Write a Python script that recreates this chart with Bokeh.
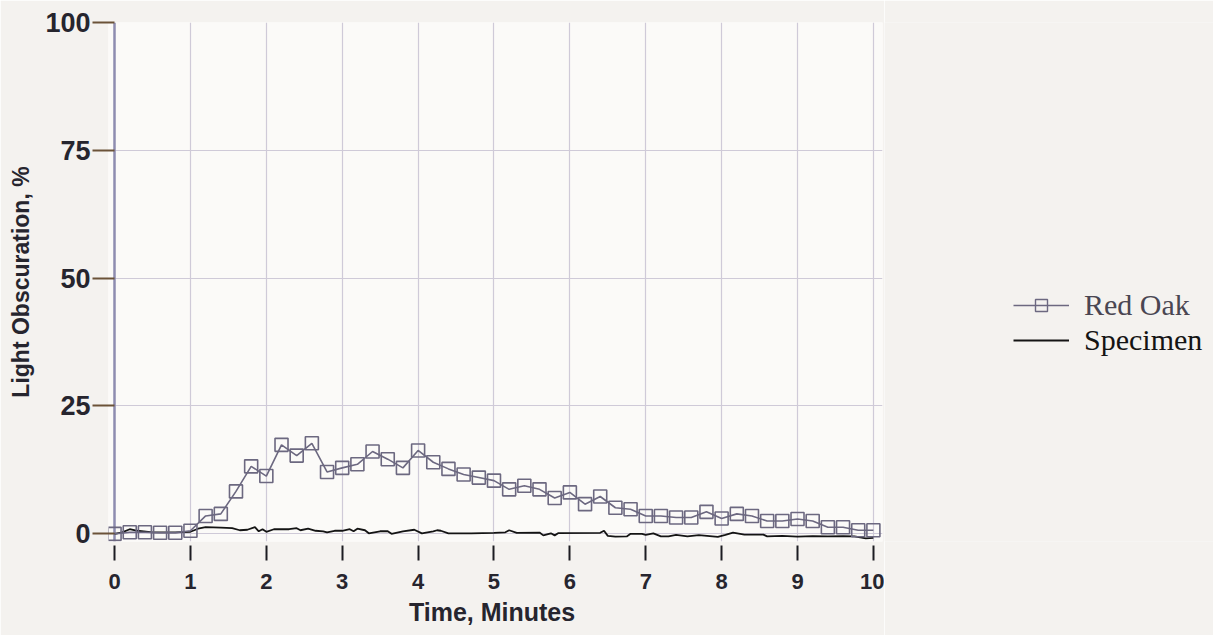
from bokeh.plotting import figure
from bokeh.layouts import row
from bokeh.models import Range1d, FixedTicker, Grid, Legend, LegendItem
from bokeh.embed import file_html
from bokeh.resources import INLINE

# ---- data ----
oak_t = [0.0, 0.2, 0.4, 0.6, 0.8, 1.0, 1.2, 1.4, 1.6, 1.8,
         2.0, 2.2, 2.4, 2.6, 2.8, 3.0, 3.2, 3.4, 3.6, 3.8,
         4.0, 4.2, 4.4, 4.6, 4.8, 5.0, 5.2, 5.4, 5.6, 5.8,
         6.0, 6.2, 6.4, 6.6, 6.8, 7.0, 7.2, 7.4, 7.6, 7.8,
         8.0, 8.2, 8.4, 8.6, 8.8, 9.0, 9.2, 9.4, 9.6, 9.8, 10.0]
oak_v = [0.0, 0.3, 0.3, 0.2, 0.2, 0.6, 3.5, 3.9, 8.3, 13.2,
         11.3, 17.4, 15.3, 17.7, 12.1, 12.9, 13.6, 16.1, 14.6, 12.9,
         16.3, 14.0, 12.7, 11.6, 11.0, 10.4, 8.7, 9.4, 8.7, 7.0,
         8.1, 5.8, 7.3, 5.1, 4.8, 3.5, 3.5, 3.2, 3.2, 4.3,
         3.0, 3.9, 3.5, 2.5, 2.5, 2.9, 2.5, 1.3, 1.3, 0.7, 0.7]

spec_t = [0.0, 0.1, 0.2, 0.3, 0.5, 0.8, 1.0, 1.1, 1.2, 1.4,
          1.55, 1.65, 1.75, 1.85, 1.9, 1.95, 2.0, 2.1, 2.3, 2.4,
          2.45, 2.55, 2.65, 2.75, 2.8, 2.9, 3.0, 3.1, 3.15, 3.2,
          3.3, 3.35, 3.5, 3.6, 3.65, 3.8, 3.95, 4.05, 4.2, 4.25,
          4.3, 4.4, 4.7, 5.0, 5.15, 5.2, 5.3, 5.6, 5.65, 5.75,
          5.8, 5.85, 6.4, 6.45, 6.5, 6.6, 6.75, 6.8, 6.95, 7.0,
          7.1, 7.2, 7.3, 7.4, 7.55, 7.7, 7.95, 8.05, 8.15, 8.3,
          8.55, 8.6, 8.8, 9.0, 9.2, 9.4, 9.6, 9.75, 9.9, 10.0]
spec_v = [0.0, 0.3, 0.9, 0.6, 0.3, 0.3, 0.4, 1.0, 1.3, 1.2,
          1.1, 0.7, 0.8, 1.3, 0.5, 0.9, 0.4, 0.9, 0.9, 1.1,
          0.7, 1.0, 0.6, 0.5, 0.3, 0.6, 0.6, 0.9, 0.5, 1.0,
          0.7, 0.1, 0.5, 0.5, 0.0, 0.5, 0.8, 0.1, 0.5, 0.7,
          0.6, 0.1, 0.1, 0.2, 0.3, 0.7, 0.2, 0.25, -0.3, 0.1,
          -0.3, 0.15, 0.2, 0.6, -0.4, -0.55, -0.5, 0.0, 0.0, -0.2,
          0.1, -0.5, -0.5, -0.2, -0.5, -0.25, -0.6, -0.2, 0.25, -0.15,
          -0.15, -0.5, -0.4, -0.55, -0.45, -0.5, -0.45, -0.5, -0.9, -0.8]

x_ticks = [0, 1, 2, 3, 4, 5, 6, 7, 8, 9, 10]
y_ticks = [0, 25, 50, 75, 100]

# ---- styles ----
OAK = "#6c6880"
SPEC = "#141414"
GRID = "#cfcad8"
TXT = "#26252e"
PAPER = "#f4f2ef"
FONT = "Liberation Sans"

p = figure(width=884, height=635, output_backend="svg", toolbar_location=None,
           x_range=Range1d(-0.08, 10.12), y_range=Range1d(-1.5, 100),
           min_border_left=108, min_border_right=2,
           min_border_top=22, min_border_bottom=94)

p.background_fill_color = "#fbfaf8"
p.border_fill_color = PAPER
p.outline_line_color = None

# grids
p.xgrid.ticker = FixedTicker(ticks=x_ticks[1:])
p.ygrid.ticker = FixedTicker(ticks=y_ticks[:-1])
p.xgrid.grid_line_color = GRID
p.ygrid.grid_line_color = GRID
p.xgrid.grid_line_width = 1.2
p.ygrid.grid_line_width = 1.2
p.add_layout(Grid(dimension=1, ticker=FixedTicker(ticks=[y_ticks[-1]]),
                  grid_line_color="#7d7062", grid_line_width=2))
p.add_layout(Grid(dimension=0, ticker=FixedTicker(ticks=[x_ticks[0]]),
                  grid_line_color="#8e8cb0", grid_line_width=2.5))

# x axis
p.xaxis.ticker = FixedTicker(ticks=x_ticks)
p.xaxis.axis_line_color = None
p.xaxis.minor_tick_line_color = None
p.xaxis.major_tick_in = -4
p.xaxis.major_tick_out = 19
p.xaxis.major_tick_line_color = "#1c1c22"
p.xaxis.major_tick_line_width = 2
p.xaxis.major_label_standoff = 13
p.xaxis.major_label_text_font = FONT
p.xaxis.major_label_text_font_style = "bold"
p.xaxis.major_label_text_font_size = "22px"
p.xaxis.major_label_text_color = TXT
p.xaxis.axis_label = "Time,  Minutes"
p.xaxis.axis_label_text_font = FONT
p.xaxis.axis_label_text_font_style = "bold"
p.xaxis.axis_label_text_font_size = "25px"
p.xaxis.axis_label_text_color = TXT
p.xaxis.axis_label_standoff = 6

# y axis
p.yaxis.ticker = FixedTicker(ticks=y_ticks)
p.yaxis.axis_line_color = None
p.yaxis.minor_tick_line_color = None
p.yaxis.major_tick_in = 6
p.yaxis.major_tick_out = 16
p.yaxis.major_tick_line_color = "#6b5238"
p.yaxis.major_tick_line_width = 2
p.yaxis.major_label_standoff = 2
p.yaxis.major_label_text_font = FONT
p.yaxis.major_label_text_font_style = "bold"
p.yaxis.major_label_text_font_size = "27px"
p.yaxis.major_label_text_color = TXT
p.yaxis.axis_label = "Light Obscuration, %"
p.yaxis.axis_label_text_font = FONT
p.yaxis.axis_label_text_font_style = "bold"
p.yaxis.axis_label_text_font_size = "23px"
p.yaxis.axis_label_text_color = TXT
p.yaxis.axis_label_standoff = 8

# series
p.line(spec_t, spec_v, line_color=SPEC, line_width=1.8)
p.line(oak_t, oak_v, line_color=OAK, line_width=1.6)
p.scatter(oak_t, oak_v, marker="square", size=13, line_color=OAK,
          fill_color=None, line_width=1.6)

# ---- legend panel (a second, axis-less figure beside the chart) ----
q = figure(width=329, height=635, output_backend="svg", toolbar_location=None,
           x_axis_type=None, y_axis_type=None,
           x_range=Range1d(0, 1), y_range=Range1d(0, 1), min_border=0)
q.background_fill_color = PAPER
q.border_fill_color = PAPER
q.outline_line_color = None
q.grid.visible = False

k_oak_line = q.line(oak_t, oak_v, line_color=OAK, line_width=1.6, visible=False)
k_oak_pts = q.scatter(oak_t, oak_v, marker="square", size=10, line_color=OAK,
                      fill_color=None, line_width=1.4, visible=False)
k_spec = q.line(spec_t, spec_v, line_color=SPEC, line_width=1.8, visible=False)

leg1 = Legend(items=[LegendItem(label="Red Oak", renderers=[k_oak_line, k_oak_pts])],
              location=(129, 219), label_text_color="#4a4652")
leg2 = Legend(items=[LegendItem(label="Specimen", renderers=[k_spec])],
              location=(129, 184), label_text_color="#141414")
for lg in (leg1, leg2):
    lg.label_text_font = "Liberation Serif"
    lg.label_text_font_size = "30px"
    lg.glyph_width = 56
    lg.glyph_height = 30
    lg.label_height = 30
    lg.label_standoff = 15
    lg.padding = 0
    lg.margin = 0
    lg.spacing = 0
    lg.click_policy = "none"
    lg.inactive_fill_alpha = 0
    lg.background_fill_alpha = 0
    lg.border_line_color = None
    q.add_layout(lg)

layout = row(p, q, spacing=0)
open("out.html", "w").write(file_html(layout, INLINE))
